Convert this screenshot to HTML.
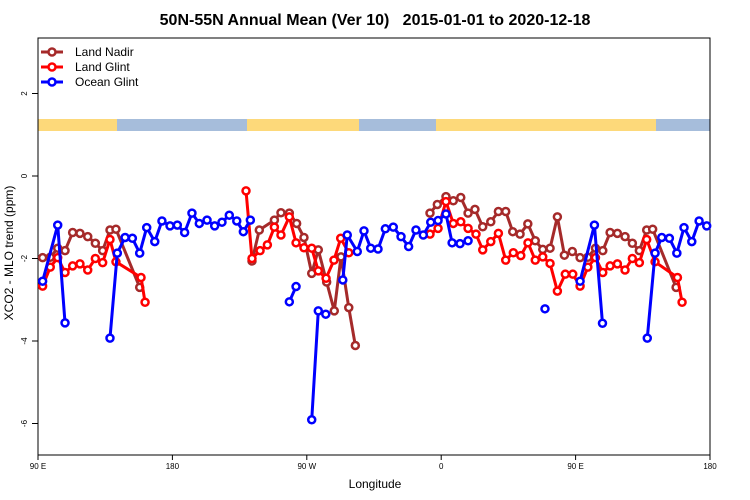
<!DOCTYPE html>
<html><head><meta charset="utf-8"><style>
body{margin:0;background:#fff;}
svg{display:block;font-family:"Liberation Sans",Arial,sans-serif;}
</style></head><body>
<svg id="chart" width="750" height="500" xmlns="http://www.w3.org/2000/svg">
<text x="375" y="25" text-anchor="middle" font-size="16" font-weight="bold" style="white-space:pre" xml:space="preserve">50N-55N Annual Mean (Ver 10)   2015-01-01 to 2020-12-18</text>
<g>
<rect x="38" y="119" width="80" height="12" fill="#fdd97a"/>
<rect x="117" y="119" width="131" height="12" fill="#a6bddb"/>
<rect x="247" y="119" width="113" height="12" fill="#fdd97a"/>
<rect x="359" y="119" width="78" height="12" fill="#a6bddb"/>
<rect x="436" y="119" width="221" height="12" fill="#fdd97a"/>
<rect x="656" y="119" width="54" height="12" fill="#a6bddb"/>
</g>
<rect x="38" y="38" width="672" height="417" fill="none" stroke="#000" stroke-width="1"/>
<g id="axes"></g>
<g id="series"></g>
<text x="375" y="488" text-anchor="middle" font-size="12">Longitude</text>
<text transform="translate(13,253) rotate(-90)" text-anchor="middle" font-size="12">XCO2 - MLO trend (ppm)</text>
<g>
<g><line x1="41" y1="52" x2="63" y2="52" stroke="#a52a2a" stroke-width="3"/><circle cx="52" cy="52" r="3.5" fill="#fff" stroke="#a52a2a" stroke-width="2.5"/><text x="75" y="56" font-size="12">Land Nadir</text></g>
<g><line x1="41" y1="67" x2="63" y2="67" stroke="#ff0000" stroke-width="3"/><circle cx="52" cy="67" r="3.5" fill="#fff" stroke="#ff0000" stroke-width="2.5"/><text x="75" y="71" font-size="12">Land Glint</text></g>
<g><line x1="41" y1="82" x2="63" y2="82" stroke="#0000ff" stroke-width="3"/><circle cx="52" cy="82" r="3.5" fill="#fff" stroke="#0000ff" stroke-width="2.5"/><text x="75" y="86" font-size="12">Ocean Glint</text></g>
</g>
</svg>
<script>
const xTicks = [90, 180, 270, 360, 450, 540];
const xTickLabels = ["90 E", "180", "90 W", "0", "90 E", "180"];
const yTicks = [2, 0, -2, -4, -6];
const nadirLon = [93.1,98.2,103.2,108.1,113.2,118.1,123.3,128.4,133.3,138.2,142.2,158.1,null,233.3,238.2,248.3,252.7,258.3,263.2,268.1,273.3,277.7,283.3,288.4,292.9,298.1,302.5,null,352.5,357.4,363.2,368.1,373.1,378.0,382.6,387.8,393.2,398.3,403.2,407.9,412.8,418.0,423.0,428.0,432.9,437.8,442.5,447.8,453.0,458.2,463.3,468.2,473.1,478.0,483.1,488.0,492.7,497.6,501.6,517.3];
const nadirVal = [-1.98,-1.97,-1.75,-1.81,-1.37,-1.39,-1.47,-1.63,-1.81,-1.31,-1.29,-2.7,null,-2.06,-1.31,-1.07,-0.89,-0.90,-1.15,-1.49,-2.36,-1.79,-2.57,-3.27,-1.96,-3.19,-4.11,null,-0.90,-0.69,-0.50,-0.60,-0.52,-0.90,-0.81,-1.23,-1.11,-0.86,-0.86,-1.35,-1.41,-1.16,-1.57,-1.78,-1.75,-0.99,-1.92,-1.83,-1.98,-1.97,-1.75,-1.81,-1.37,-1.39,-1.47,-1.63,-1.81,-1.31,-1.29,-2.7];
const glintLon = [93.1,98.2,103.2,108.1,113.2,118.1,123.3,128.4,133.3,138.2,142.2,159.0,161.7,null,229.3,233.3,238.7,243.6,248.3,252.7,258.3,262.8,268.1,273.3,277.7,282.9,288.2,292.7,298.1,null,352.5,357.9,363.2,368.1,373.1,378.0,383.3,387.8,393.2,398.3,403.2,408.3,413.3,418.1,423.0,428.0,432.9,437.8,443.1,448.1,453.0,458.2,463.3,468.2,473.1,478.0,483.1,488.0,492.7,497.6,503.2,518.2,521.3];
const glintVal = [-2.67,-2.21,-1.98,-2.34,-2.18,-2.13,-2.28,-2.0,-2.10,-1.54,-2.08,-2.46,-3.06,null,-0.36,-2.0,-1.81,-1.67,-1.24,-1.43,-0.99,-1.62,-1.74,-1.75,-2.30,-2.48,-2.04,-1.51,-1.86,null,-1.41,-1.27,-0.62,-1.15,-1.11,-1.27,-1.41,-1.79,-1.59,-1.39,-2.04,-1.86,-1.93,-1.62,-2.04,-1.96,-2.12,-2.79,-2.38,-2.38,-2.67,-2.21,-1.98,-2.34,-2.18,-2.13,-2.28,-2.0,-2.10,-1.54,-2.08,-2.46,-3.06];
const oceanLon = [93.1,103.2,108.1,null,138.2,143.1,148.3,153.2,158.1,162.8,168.2,173.0,178.4,183.3,188.2,193.1,198.0,203.2,208.3,213.2,218.1,223.1,227.5,232.2,null,258.3,262.8,null,273.3,277.7,282.7,null,294.1,297.1,303.8,308.3,312.8,317.7,322.6,327.9,333.1,338.2,343.1,348.0,353.0,357.9,363.2,367.3,372.6,378.0,null,429.5,null,453.0,462.6,468.0,null,498.0,503.2,507.7,512.8,517.8,522.6,527.8,532.7,537.8];
const oceanVal = [-2.55,-1.19,-3.56,null,-3.93,-1.87,-1.49,-1.51,-1.87,-1.25,-1.59,-1.09,-1.21,-1.19,-1.37,-0.90,-1.15,-1.07,-1.21,-1.12,-0.95,-1.09,-1.35,-1.07,null,-3.05,-2.68,null,-5.91,-3.27,-3.35,null,-2.52,-1.43,-1.83,-1.33,-1.75,-1.77,-1.28,-1.24,-1.47,-1.71,-1.31,-1.43,-1.12,-1.08,-0.92,-1.62,-1.64,-1.57,null,-3.22,null,-2.55,-1.19,-3.57,null,-3.93,-1.87,-1.49,-1.51,-1.87,-1.25,-1.59,-1.09,-1.21];

const NS = "http://www.w3.org/2000/svg";
const X0 = 38, X1 = 710, LON0 = 90, LON1 = 540;
function xScale(lon){ return X0 + (lon - LON0) * (X1 - X0) / (LON1 - LON0); }
function yScale(v){ return 176 - v * 41.25; }
function mk(tag, attrs){ const e = document.createElementNS(NS, tag); for (const k in attrs) e.setAttribute(k, attrs[k]); return e; }

const axes = document.getElementById('axes');
xTicks.forEach((t, i) => {
  const x = xScale(t);
  const tk = mk('line', {x1:x, y1:455, x2:x, y2:460, stroke:'#000'});
  
  
  axes.appendChild(tk);
  const lb = mk('text', {x:x, y:469, 'text-anchor':'middle', 'font-size':'8'});
  
  
  lb.textContent = xTickLabels[i];
  axes.appendChild(lb);
});
yTicks.forEach(t => {
  const y = yScale(t);
  const tk = mk('line', {x1:32, y1:y, x2:38, y2:y, stroke:'#000'});
  
  
  axes.appendChild(tk);
  const lb = mk('text', {transform:`translate(27,${y}) rotate(-90)`, 'text-anchor':'middle', 'font-size':'8'});
  
  
  lb.textContent = String(t);
  axes.appendChild(lb);
});

const sg = document.getElementById('series');
function drawSeries(lons, vals, color, name){
  const g = mk('g', {});
  
  
  let seg = [];
  const segs = [];
  for (let i = 0; i < lons.length; i++){
    if (lons[i] === null || vals[i] === null){ if (seg.length) segs.push(seg); seg = []; }
    else seg.push([xScale(lons[i]), yScale(vals[i])]);
  }
  if (seg.length) segs.push(seg);
  segs.forEach(s => {
    if (s.length > 1){
      const pl = mk('polyline', {points: s.map(p => p.join(',')).join(' '), fill:'none', stroke:color, 'stroke-width':3, 'stroke-linejoin':'round'});
      
      
      g.appendChild(pl);
    }
  });
  segs.forEach(s => s.forEach(p => {
    const c = mk('circle', {cx:p[0], cy:p[1], r:3.5, fill:'#fff', stroke:color, 'stroke-width':2.5});
    
    
    g.appendChild(c);
  }));
  sg.appendChild(g);
}
drawSeries(nadirLon, nadirVal, '#a52a2a', 'land-nadir-series');
drawSeries(glintLon, glintVal, '#ff0000', 'land-glint-series');
drawSeries(oceanLon, oceanVal, '#0000ff', 'ocean-glint-series');
</script>
</body></html>
